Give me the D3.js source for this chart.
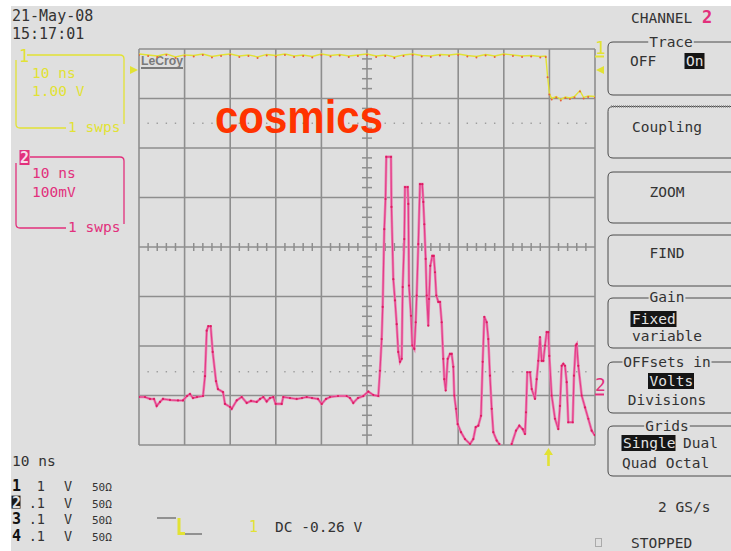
<!DOCTYPE html>
<html><head><meta charset="utf-8">
<script src="https://cdn.jsdelivr.net/npm/d3@7"></script>
<style>body{margin:0;background:#fff;} svg{display:block}</style>
</head><body>
<script>
// ---- Data ----
// Channel 2 (pink, 100 mV/div): time in ns, voltage in mV (relative to screen centre)
const ch2Time = [0,1.32,2.41,3.29,3.88,4.61,5.26,6.80,8.55,9.65,10.53,11.18,11.84,12.72,14.04,14.47,14.85,15.20,15.72,16.16,16.89,17.32,18.42,18.86,19.96,20.33,21.43,22.52,23.62,24.56,25.81,26.54,27.26,28.00,28.73,29.45,29.98,31.29,31.64,33.11,34.58,35.75,36.78,37.94,39.25,40.07,41.01,41.89,43.64,45.55,46.27,46.99,48.03,49.19,50.29,51.38,52.48,52.85,53.22,53.44,53.79,54.06,54.23,55.26,55.37,55.77,56.14,56.51,56.86,57.24,57.61,57.83,58.18,58.33,58.93,59.06,59.21,59.65,59.93,60.37,60.68,60.90,61.25,61.62,62.13,62.35,62.57,62.87,63.09,63.44,63.60,63.88,64.32,64.63,64.91,65.20,65.64,66.01,66.38,66.73,66.95,67.26,67.70,68.20,68.57,68.93,69.14,69.52,69.89,70.61,71.49,72.59,73.31,73.84,74.41,75.00,75.37,75.72,76.25,76.60,76.97,77.35,77.70,78.44,79.01,79.61,80.92,81.73,82.68,83.40,84.15,84.65,84.87,85.15,85.75,86.12,86.84,87.21,87.57,87.94,88.31,88.66,89.04,89.41,89.76,89.98,90.50,91.23,91.95,92.32,92.70,93.05,93.42,93.79,94.14,95.11,95.39,95.77,95.99,96.34,97.08,97.81,98.53,99.27,99.93];
const ch2Mv = [-303,-303,-307,-307,-321,-313,-307,-309,-310,-310,-301,-297,-305,-303,-301,-261,-169,-160,-160,-212,-271,-287,-293,-317,-323,-327,-310,-303,-315,-311,-313,-307,-303,-312,-305,-303,-317,-317,-303,-305,-307,-305,-303,-305,-307,-317,-307,-303,-301,-301,-305,-315,-305,-301,-292,-299,-301,-250,-186,-121,36,97,182,182,81,-65,-108,-156,-212,-232,-226,-81,16,121,121,87,-78,-139,-199,-206,-152,-98,6,127,127,91,46,-24,-98,-159,-105,-38,-18,-18,-51,-98,-111,-111,-152,-226,-267,-290,-226,-216,-216,-242,-300,-327,-358,-374,-388,-398,-388,-364,-361,-341,-232,-141,-152,-186,-260,-327,-374,-391,-398,-408,-412,-398,-371,-361,-368,-378,-334,-253,-253,-287,-307,-267,-230,-182,-230,-230,-199,-172,-172,-220,-300,-347,-368,-321,-240,-236,-240,-273,-354,-354,-260,-199,-196,-240,-300,-324,-347,-371,-380];
// Channel 1 (yellow, 1 V/div): time in ns, voltage in V
const ch1Time = [0,2,4,6,8,10,12,14,16,18,20,22,24,26,28,30,32,34,36,38,40,42,44,46,48,50,52,54,56,58,60,62,64,66,68,70,72,74,76,78,80,82,84,86,88,89.2,89.6,90.0,90.5,91.5,92.5,93.5,94.5,95.5,96.7,97.5,98.5,100];
const ch1Volt = [3.90,3.88,3.86,3.90,3.84,3.88,3.87,3.90,3.85,3.88,3.90,3.86,3.88,3.84,3.89,3.87,3.90,3.86,3.88,3.85,3.90,3.87,3.89,3.86,3.88,3.90,3.86,3.88,3.84,3.88,3.90,3.87,3.86,3.89,3.88,3.90,3.87,3.85,3.89,3.86,3.90,3.88,3.86,3.87,3.85,3.86,3.45,3.10,3.00,3.04,2.98,3.03,3.01,3.04,3.16,3.02,3.05,3.04];
const timeTicks = [0,10,20,30,40,50,60,70,80,90,100];
const ch2Ticks = [-400,-300,-200,-100,0,100,200,300,400];
const ch2DottedLevel = -252;   // mV
const ch1DottedLevel = 2.5;    // V
const triggerTime = 89.8;      // ns
const chanRows = [["1","1","V","50Ω"],["2",".1","V","50Ω"],["3",".1","V","50Ω"],["4",".1","V","50Ω"]];

// ---- Drawing ----
const W=731,H=551;
const MONO="'DejaVu Sans Mono', monospace";
const YEL="#e2e234", PINK="#e2307c", DARK="#333";
const svg=d3.select("body").append("svg").attr("width",W).attr("height",H);
svg.append("rect").attr("x",11).attr("y",6).attr("width",W-11).attr("height",H-6).attr("fill","#dfdfdf");

const x=d3.scaleLinear().domain([0,100]).range([139,595]);
const y2=d3.scaleLinear().domain([-400,400]).range([445,49]);
const y1=d3.scaleLinear().domain([-4,4]).range([445,49]);

// grid
const grid=svg.append("g").attr("stroke","#8e8e8e").attr("stroke-width",1.6);
grid.selectAll("line.v").data(timeTicks).join("line").attr("x1",d=>x(d)).attr("x2",d=>x(d)).attr("y1",y2(-400)).attr("y2",y2(400));
grid.selectAll("line.h").data(ch2Ticks).join("line").attr("y1",d=>y2(d)).attr("y2",d=>y2(d)).attr("x1",x(0)).attr("x2",x(100));
// centre minor ticks
const minorT=d3.range(0,100.01,2).filter(t=>t%10!==0);
const minorV=d3.range(-400,400.01,20).filter(v=>v%100!==0);
const mt=svg.append("g").attr("stroke","#8e8e8e").attr("stroke-width",1.5);
mt.selectAll("line.a").data(minorT).join("line").attr("x1",d=>x(d)).attr("x2",d=>x(d)).attr("y1",y2(0)-4).attr("y2",y2(0)+4);
mt.selectAll("line.b").data(minorV).join("line").attr("y1",d=>y2(d)).attr("y2",d=>y2(d)).attr("x1",x(50)-5).attr("x2",x(50)+5);
// dotted levels
const dots=svg.append("g").attr("fill","#9a9a9a");
[y1(ch1DottedLevel),y2(ch2DottedLevel)].forEach(yy=>{
  dots.selectAll(null).data(minorT).join("rect").attr("x",d=>x(d)-0.7).attr("y",yy-0.7).attr("width",1.4).attr("height",1.4);
});

// LeCroy logo
svg.append("text").attr("x",141).attr("y",65).attr("font-family","'Liberation Sans Narrow','Liberation Sans',sans-serif").attr("font-weight","bold").attr("font-size",13).attr("fill","#7a7a7a").attr("textLength",42).attr("lengthAdjust","spacingAndGlyphs").text("LeCroy");
svg.append("rect").attr("x",141).attr("y",67).attr("width",42).attr("height",2).attr("fill","#7a7a7a");

// clip
svg.append("clipPath").attr("id","gc").append("rect").attr("x",139).attr("y",49).attr("width",456).attr("height",396);
const tr=svg.append("g").attr("clip-path","url(#gc)");
// ch1 yellow trace
const ch1=ch1Time.map((t,i)=>[t,ch1Volt[i]]);
tr.append("path").attr("d",d3.line().x(d=>x(d[0])).y(d=>y1(d[1]))(ch1)).attr("fill","none").attr("stroke",YEL).attr("stroke-width",1.4);
tr.append("g").selectAll("circle").data(ch1).join("circle").attr("cx",d=>x(d[0])).attr("cy",d=>y1(d[1])+1).attr("r",1).attr("fill","#e8603a");
// ch2 pink trace
const ch2=ch2Time.map((t,i)=>[t,ch2Mv[i]]);
const pl=d3.line().x(d=>x(d[0])).y(d=>y2(d[1]))(ch2);
tr.append("path").attr("d",pl).attr("fill","none").attr("stroke","#ec7fb0").attr("stroke-width",2.6);
tr.append("path").attr("d",pl).attr("fill","none").attr("stroke","#e23c88").attr("stroke-width",1.1);
tr.append("g").selectAll("circle").data(ch2).join("circle").attr("cx",d=>x(d[0])).attr("cy",d=>y2(d[1])).attr("r",1.1).attr("fill","#dc1c60");

// cosmics label
svg.append("text").attr("x",215).attr("y",133).attr("font-family","'Liberation Sans',Arial,sans-serif").attr("font-weight","bold").attr("font-size",46).attr("fill","#ff3300").attr("textLength",168).attr("lengthAdjust","spacingAndGlyphs").text("cosmics");

// markers
svg.append("path").attr("d","M130,66 L138,70 L130,74 Z").attr("fill",YEL);
svg.append("path").attr("d","M604,66 L596,70 L604,74 Z").attr("fill",YEL);
svg.append("text").attr("x",595).attr("y",54).attr("font-family",MONO).attr("font-size",18).attr("fill",YEL).text("1");
svg.append("line").attr("x1",595).attr("x2",604).attr("y1",56.5).attr("y2",56.5).attr("stroke",YEL).attr("stroke-width",2);
svg.append("text").attr("x",595).attr("y",391).attr("font-family",MONO).attr("font-size",18).attr("fill",PINK).text("2");
svg.append("line").attr("x1",595).attr("x2",604).attr("y1",394.5).attr("y2",394.5).attr("stroke",PINK).attr("stroke-width",2);
// trigger arrow
const tx=x(triggerTime);
svg.append("path").attr("d",`M${tx},448 L${tx+4.5},455 L${tx+1.3},455 L${tx+1.3},466 L${tx-1.3},466 L${tx-1.3},455 L${tx-4.5},455 Z`).attr("fill",YEL);

// top-left text
const T=(t,xx,yy,opt={})=>svg.append("text").attr("x",xx).attr("y",yy).attr("font-family",MONO).attr("font-size",opt.size||14.5).attr("fill",opt.fill||DARK).attr("text-anchor",opt.anchor||"start").attr("font-weight",opt.weight||"normal").text(t);
T("21-May-08",12,21,{size:15});
T("15:17:01",12,39,{size:15});
// ch1 box
svg.append("path").attr("d","M27,55 H120 Q124,55 124,59 V124").attr("fill","none").attr("stroke",YEL).attr("stroke-width",1.3);
svg.append("path").attr("d","M16,60 V124 Q16,128 20,128 H66").attr("fill","none").attr("stroke",YEL).attr("stroke-width",1.3);
T("1",19,62,{size:17,fill:YEL});
T("10 ns",32,78,{fill:YEL});
T("1.00 V",32,96,{fill:YEL});
T("1 swps",68,132,{fill:YEL});
// ch2 box
svg.append("path").attr("d","M30,157 H120 Q124,157 124,161 V224").attr("fill","none").attr("stroke",PINK).attr("stroke-width",1.3);
svg.append("path").attr("d","M16,163 V224 Q16,228 20,228 H66").attr("fill","none").attr("stroke",PINK).attr("stroke-width",1.3);
svg.append("rect").attr("x",19.5).attr("y",150).attr("width",10).attr("height",15).attr("fill",PINK);
T("2",20,163,{size:15,fill:"#f6dbe8",weight:"bold"});
T("10 ns",32,178,{fill:PINK});
T("100mV",32,197,{fill:PINK});
T("1 swps",68,232,{fill:PINK});

// right menu
T("CHANNEL",631,23,{size:14.5});
T("2",702,23,{size:17,fill:PINK,weight:"bold"});
function box(y0,y1b,title,tcx,tby){
  svg.append("path").attr("d",`M740,${y0} H613 Q608,${y0} 608,${y0+5} V${y1b-5} Q608,${y1b} 613,${y1b} H740`).attr("fill","none").attr("stroke","#4a4a4a").attr("stroke-width",1);
  if(title){
    const w=title.length*8.7;
    svg.append("rect").attr("x",tcx-w/2-1).attr("y",y0-2).attr("width",w+2).attr("height",4).attr("fill","#dfdfdf");
    T(title,tcx,tby,{anchor:"middle"});
  }
}
box(42,95,"Trace",671,47);
box(106.5,158,null);
svg.append("line").attr("x1",611).attr("x2",731).attr("y1",106.5).attr("y2",106.5).attr("stroke","#8a8a8a").attr("stroke-width",2.5).attr("stroke-dasharray","1,1");
box(172,223,null);
box(235,286,null);
box(298,348,"Gain",667,302);
box(362,413,"OFFsets in",667,367);
box(426,476,"Grids",667,431);
T("OFF",630,66);
function hl(t,xx,yy,w){
  svg.append("rect").attr("x",xx-1.5).attr("y",yy-13).attr("width",w).attr("height",16).attr("fill","#151515");
  T(t,xx,yy,{fill:"#e4e4e4"});
}
hl("On",686,66,20);
T("Coupling",667,132,{anchor:"middle"});
T("ZOOM",667,197,{anchor:"middle"});
T("FIND",667,258,{anchor:"middle"});
hl("Fixed",632,324,46);
T("variable",667,341,{anchor:"middle"});
hl("Volts",649.5,386,46);
T("Divisions",667,405,{anchor:"middle"});
hl("Single",623,448,54);
T("Dual",683,448);
T("Quad Octal",622,468);
T("2 GS/s",658,512);
T("STOPPED",631,548);
svg.append("rect").attr("x",595.5).attr("y",538.5).attr("width",6).attr("height",8).attr("fill","none").attr("stroke","#aaa");

// bottom-left
T("10 ns",12,466);
chanRows.forEach((r,i)=>{
  const yy=491+i*16.6;
  if(r[0]==="2"){
    svg.append("rect").attr("x",11.5).attr("y",yy-12).attr("width",9).attr("height",13).attr("fill","#1a1a1a");
    T(r[0],12,yy,{size:15,weight:"bold",fill:"#e0e0e0"});
  } else T(r[0],12,yy,{size:15,weight:"bold",fill:"#111"});
  T(r[1],45,yy,{size:13.5,anchor:"end"});
  T(r[2],64,yy,{size:13.5});
  T(r[3],92,yy,{size:11});
});
// trigger icon
svg.append("path").attr("d","M157,518 H176").attr("stroke","#777").attr("stroke-width",1.5).attr("fill","none");
svg.append("path").attr("d","M179,518 V533.5 H185").attr("stroke",YEL).attr("stroke-width",3).attr("fill","none");
svg.append("path").attr("d","M185,534 H202").attr("stroke","#777").attr("stroke-width",1.5).attr("fill","none");
T("1",249,532,{size:15,fill:YEL});
T("DC -0.26 V",275,532);
</script>
</body></html>
